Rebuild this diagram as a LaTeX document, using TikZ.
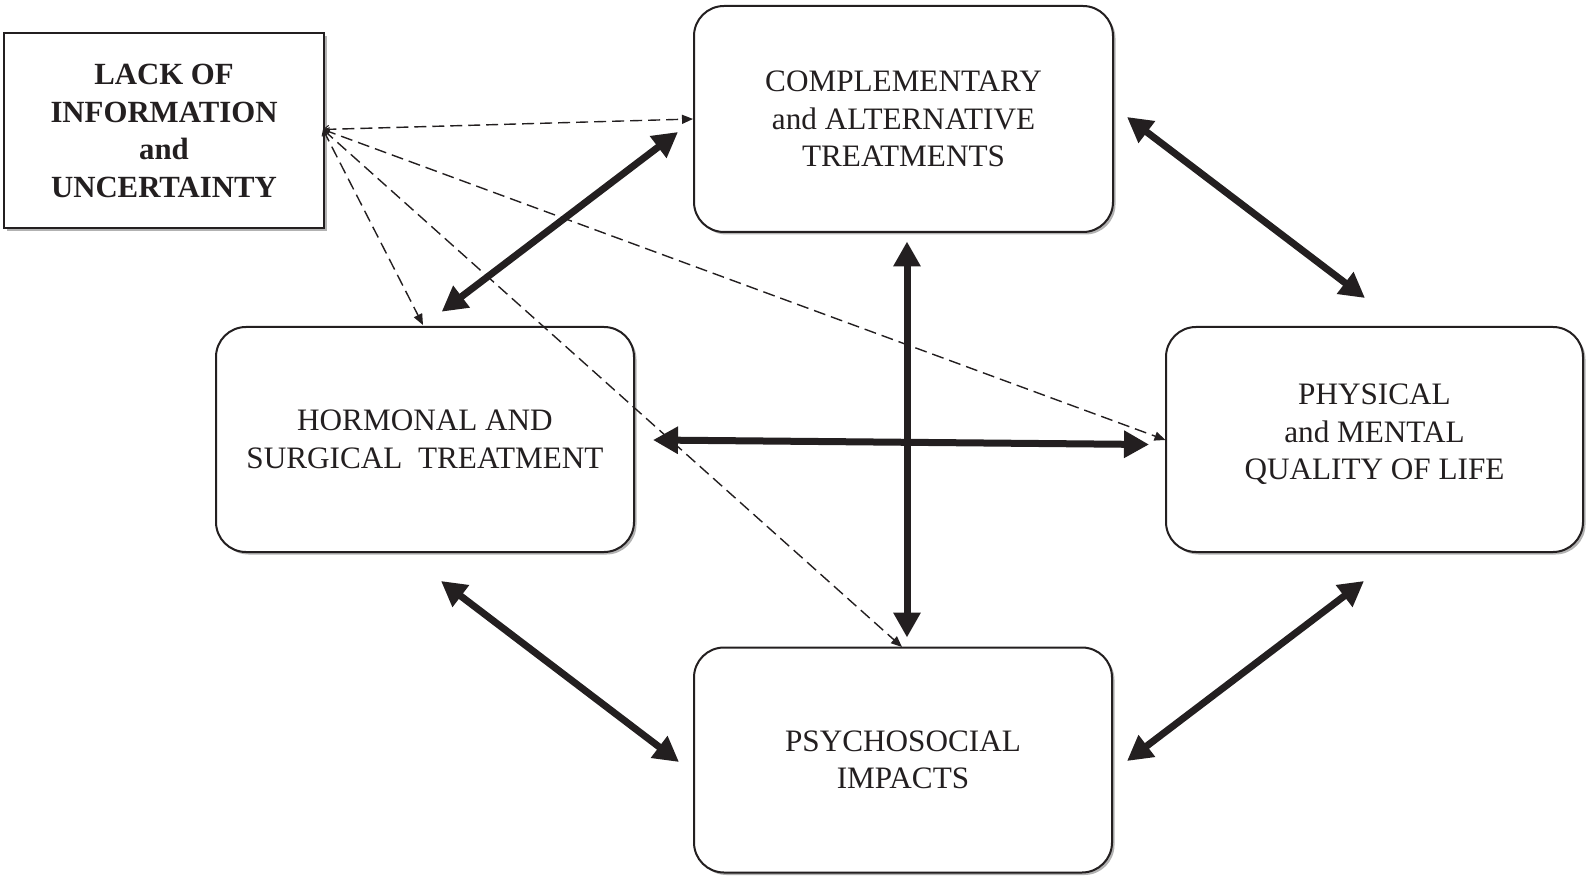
\documentclass[tikz,border=0pt]{standalone}
\usepackage{fontspec}
\setmainfont{Liberation Serif}
\usetikzlibrary{arrows.meta,shadows}
\definecolor{ink}{RGB}{35,31,32}
\tikzset{
  boxbase/.style={draw=ink, line width=2pt, fill=white, align=center, text=ink,
    drop shadow={shadow xshift=2.5pt, shadow yshift=-2.5pt, opacity=0.3, fill=black}},
  roundbox/.style={boxbase, rounded corners=30pt, minimum width=418pt, minimum height=225pt},
  lackbox/.style={boxbase, minimum width=320pt, minimum height=195pt,
    font=\bfseries\fontsize{30.8}{37.6}\selectfont},
  bigarrow/.style={draw=ink, line width=7pt,
    {Triangle[length=25pt,width=26pt]}-{Triangle[length=25pt,width=26pt]}},
  dasharrow/.style={draw=ink, line width=1.4pt, dash pattern=on 12pt off 6pt,
    {Straight Barb[length=5pt,width=8pt,line width=1pt]}-{Triangle[length=11pt,width=9pt]}}
}
\begin{document}
\begin{tikzpicture}[x=1pt,y=-1pt, font=\fontsize{31.2}{37.6}\selectfont]
\useasboundingbox (0,0) rectangle (1593,882);

\node[lackbox] (lack) at (164,131) {LACK OF\\INFORMATION\\and\\UNCERTAINTY};
\node[roundbox, minimum width=419pt, minimum height=226pt] (comp) at (903.5,119)
  {COMPLEMENTARY\\and ALTERNATIVE\\TREATMENTS};
\node[roundbox] (horm) at (425,439.5) {HORMONAL AND\\SURGICAL\ \ TREATMENT};
\node[roundbox, minimum width=417pt, label={[align=center,text=ink,yshift=5pt]center:PHYSICAL\\and MENTAL\\QUALITY OF LIFE}] (phys) at (1374.5,439.5) {};
\node[roundbox] (psy) at (903,760) {PSYCHOSOCIAL\\IMPACTS};

% connector end points
\coordinate (o) at (323,129.5);
\coordinate (hc1) at (441.7,311.7);
\coordinate (hc2) at (678,132);
\coordinate (cp1) at (1127,117);
\coordinate (cp2) at (1365,298);
\coordinate (hs1) at (441,581);
\coordinate (hs2) at (679,762);
\coordinate (ps1) at (1364,581);
\coordinate (ps2) at (1127,761);
\coordinate (hp1) at (653,440);
\coordinate (hp2) at (1149,444.5);
\coordinate (cs1) at (907,241.5);
\coordinate (cs2) at (907,637.5);

% dashed connectors from the lack box
\draw[dasharrow] (o) -- (693,119) coordinate (dc);
\draw[dasharrow] (o) -- (423,325) coordinate (dh);
\draw[dasharrow] (o) -- (902,647) coordinate (ds);
\draw[dasharrow] (o) -- (1165.5,440) coordinate (dp);

% thick two-way connectors
\draw[bigarrow] (hc1) -- (hc2);
\draw[bigarrow] (cp1) -- (cp2);
\draw[bigarrow] (hs1) -- (hs2);
\draw[bigarrow] (ps1) -- (ps2);
\draw[bigarrow] (cs1) -- (cs2);
\draw[bigarrow] (hp1) -- (hp2);
\end{tikzpicture}
\end{document}
